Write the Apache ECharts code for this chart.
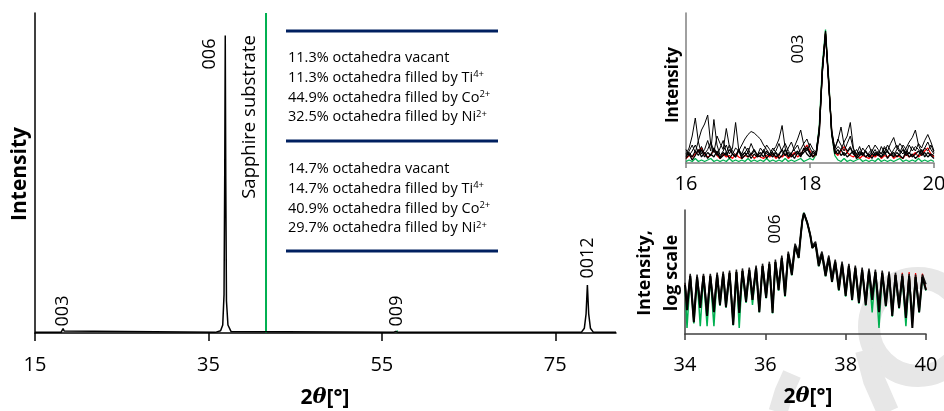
<!DOCTYPE html>
<html><head><meta charset="utf-8">
<script src="https://cdn.jsdelivr.net/npm/echarts@6/dist/echarts.min.js"></script>
<style>html,body{margin:0;padding:0;background:#fff}#c{width:944px;height:411px}</style>
</head><body><div id="c"></div>
<script>
// ---------- main pattern ----------
const mainX = [15, 18.0, 18.12, 18.24, 18.36, 18.5, 35.8, 36.4, 36.65, 36.8, 36.88, 36.94, 37.0, 37.08, 37.25, 37.6, 56.3, 56.6, 56.9, 78.0, 78.35, 78.55, 78.7, 78.85, 79.05, 79.4, 82];
const mainY = [0.2, 0.2, 0.6, 1.4, 0.6, 0.2, 0.2, 0.7, 2.5, 12, 50, 93, 48, 10, 2.5, 0.5, 0.2, 0.5, 0.2, 0.2, 1.5, 6, 15, 6, 1.5, 0.2, 0.2];
const sapphirePos = 41.64;
const mainTicks = [15, 35, 55, 75];

// ---------- inset 1: 003 region (linear) ----------
const inset1X = [16.00,16.05,16.10,16.15,16.20,16.25,16.30,16.35,16.40,16.45,16.50,16.55,16.60,16.65,16.70,16.75,16.80,16.85,16.90,16.95,17.00,17.05,17.10,17.15,17.20,17.25,17.30,17.35,17.40,17.45,17.50,17.55,17.60,17.65,17.70,17.75,17.80,17.85,17.90,17.95,18.00,18.05,18.10,18.15,18.20,18.25,18.30,18.35,18.40,18.45,18.50,18.55,18.60,18.65,18.70,18.75,18.80,18.85,18.90,18.95,19.00,19.05,19.10,19.15,19.20,19.25,19.30,19.35,19.40,19.45,19.50,19.55,19.60,19.65,19.70,19.75,19.80,19.85,19.90,19.95,20.00];
const inset1A = [6,10,18,30,14,6,9,15,8,29,12,5,8,12,6,10,27,9,4,7,10,5,8,6,4,9,6,5,8,11,16,25,10,5,7,9,12,6,9,11,7,5,6,22,62,86,55,20,8,11,9,14,18,27,10,5,8,6,4,7,9,5,8,6,10,7,5,9,12,8,6,10,14,17,22,12,7,10,14,9,6];
const inset1B = [4,8,12,7,15,22,26,32,12,7,18,13,9,23,11,6,10,8,12,16,19,21,20,18,16,12,9,6,10,7,5,9,13,8,6,11,16,22,12,8,13,9,7,24,64,87,54,21,10,15,24,12,8,11,6,9,5,10,7,5,8,12,9,6,11,8,13,17,10,7,12,9,6,11,8,13,10,15,19,14,8];
const inset1C = [9,5,8,12,7,11,6,9,14,8,5,10,15,7,12,8,5,9,6,11,7,13,8,5,10,7,12,9,5,8,13,7,5,10,14,8,6,9,13,16,10,6,8,23,60,85,56,19,9,16,12,8,13,18,9,6,11,5,9,12,6,9,5,11,7,12,8,5,9,13,10,6,12,8,11,9,6,10,8,12,7];
const inset1D = [5,7,4,8,5,9,4,7,5,10,6,4,7,5,9,6,4,8,5,7,4,6,9,5,7,4,8,5,7,4,6,9,5,7,4,6,8,5,7,10,6,4,7,21,61,88,53,22,8,6,9,5,7,10,6,4,7,5,8,4,6,5,7,4,6,8,5,7,4,6,9,5,7,4,6,8,5,7,4,6,5];
const inset1E = [3,6,2,5,9,4,7,3,6,4,8,3,5,7,3,6,4,9,3,5,7,3,6,4,5,8,3,6,4,7,3,5,9,4,6,3,7,4,10,6,4,8,5,20,63,86,56,19,6,9,5,7,4,6,8,3,5,7,4,6,3,7,5,4,8,3,6,4,7,5,3,8,4,6,3,5,9,4,7,5,3];
const inset1Red = [3,5,4,6,8,10,6,4,5,9,5,3,6,4,5,3,6,4,3,5,4,6,3,5,4,3,5,4,6,3,5,4,6,3,5,7,4,6,9,12,8,4,6,22,62,87,55,21,7,5,8,11,7,5,4,6,3,5,4,3,5,4,6,3,5,4,6,3,5,4,3,6,4,5,7,4,6,8,10,6,4];
const inset1Green = [1,2,1,3,1,2,1,2,3,1,2,1,2,1,3,1,2,1,2,1,3,1,2,1,2,1,3,1,2,1,2,1,3,1,2,1,2,3,1,2,3,2,6,25,66,89,57,20,5,2,1,3,1,2,1,2,3,1,2,1,2,1,3,1,2,1,2,1,2,3,1,2,1,2,1,3,1,2,1,2,1];
const inset1Ticks = [16, 18, 20];

// ---------- inset 2: 006 region (log scale) ----------
const inset2X = [34.00,34.05,34.13,34.22,34.30,34.38,34.46,34.55,34.63,34.72,34.80,34.87,34.95,35.02,35.11,35.20,35.28,35.35,35.43,35.52,35.60,35.68,35.77,35.85,35.93,36.02,36.10,36.18,36.25,36.33,36.41,36.49,36.57,36.66,36.74,36.83,36.88,36.92,36.96,37.00,37.04,37.08,37.12,37.17,37.25,37.33,37.41,37.50,37.58,37.66,37.74,37.83,37.91,38.00,38.08,38.16,38.24,38.33,38.41,38.50,38.58,38.66,38.74,38.83,38.91,39.00,39.08,39.16,39.24,39.33,39.41,39.50,39.58,39.66,39.74,39.83,39.91,40.00];
const inset2Black = [38,5.9,74,2.4,69,6.9,74,3.8,74,5.1,80,8.6,86,7.4,93,1.95,100,4.8,108,10.8,116,12.5,135,5.1,156,14.5,181,4.8,210,26,283,17,381,80,690,283,1500,4500,8000,7000,4000,2500,1500,595,800,156,381,74,283,48,210,26,181,17,156,12.5,135,10,116,8.6,108,12.5,100,5.1,93,8,86,3.8,80,6.9,74,3.3,74,1.56,69,5.1,69,26];
const inset2Black2 = [45,9,88,4,83,10,88,6,88,8,95,13,103,11,112,3,120,7,130,16,140,19,160,8,185,22,215,7,250,39,340,25,455,120,820,420,1400,4300,7800,6900,4100,2600,1550,700,950,230,455,110,340,72,250,39,215,25,185,19,160,15,140,13,130,19,120,8,112,12,103,6,95,10,88,5,88,3,83,8,83,40];
const inset2Green = [38,1.56,72,2.2,67,1.8,72,1.8,72,1.8,78,8,84,7,90,1.9,97,1.56,105,10,113,8.6,132,5,152,14,176,4.6,205,25,276,16,372,78,675,280,1480,4600,8200,7100,3900,2450,1480,590,790,152,372,72,276,47,205,25,176,16,152,12,132,9.5,113,8.2,105,5,97,1.56,90,7.6,84,3.6,78,6.6,72,1.8,72,3,67,4.9,67,25];
const inset2Red = [40,6.5,78,2.6,72,7.5,78,4.2,78,5.6,84,9.2,90,8,97,2.2,104,5.2,112,11.5,120,13,140,5.6,160,15,186,5.2,215,27,290,18,390,82,700,290,1520,4450,7900,6950,4050,2550,1520,600,810,160,390,78,290,50,215,27,186,18,160,13,140,11,122,9.5,112,13,104,5.6,98,8.6,92,4.2,86,7.5,95,3.6,100,2,92,5.6,88,28];
const inset2Ticks = [34, 36, 38, 40];

// ---------- annotation text ----------
const blockA = [
  ['11.3% octahedra vacant', ''],
  ['11.3% octahedra filled by Ti', '4+'],
  ['44.9% octahedra filled by Co', '2+'],
  ['32.5% octahedra filled by Ni', '2+']
];
const blockB = [
  ['14.7% octahedra vacant', ''],
  ['14.7% octahedra filled by Ti', '4+'],
  ['40.9% octahedra filled by Co', '2+'],
  ['29.7% octahedra filled by Ni', '2+']
];

const FONT = 'Open Sans';
const zip = (xs, ys) => xs.map((x, i) => [x, ys[i]]);

function lineSeries(xi, yi, data, color, width, z) {
  return { type: 'line', xAxisIndex: xi, yAxisIndex: yi, data: data, showSymbol: false, symbol: 'none',
    lineStyle: { color: color, width: width }, z: z || 2, animation: false, silent: true };
}

function valueXAxis(grid, min, max, ticks, color, margin, tickLen) {
  return { type: 'value', gridIndex: grid, min: min, max: max,
    axisLine: { show: true, onZero: false, lineStyle: { color: color, width: 1.5 } },
    axisTick: { show: true, customValues: ticks, length: tickLen, inside: false, lineStyle: { color: color, width: 1.5 } },
    axisLabel: { show: true, customValues: ticks, margin: margin, fontSize: 20, color: '#000', fontFamily: FONT },
    splitLine: { show: false } };
}
function plainYAxis(grid, type, min, max, color) {
  return { type: type, gridIndex: grid, min: min, max: max,
    axisLine: { show: true, onZero: false, lineStyle: { color: color, width: 1.5 } },
    axisTick: { show: false }, axisLabel: { show: false }, splitLine: { show: false } };
}

function rotText(x, y, text, size, bold, lineHeight) {
  const st = { text: text, fontSize: size, fontFamily: FONT, fontWeight: bold ? 'bold' : 'normal', fill: '#000',
      align: 'center', verticalAlign: 'middle' };
  if (lineHeight) st.lineHeight = lineHeight;
  return { type: 'text', x: x, y: y, rotation: Math.PI / 2, style: st };
}

const graphics = [];
// watermark shapes
const WM = '#e7e7e7';
graphics.push({ type: 'circle', z: -10, silent: true, shape: { cx: 918, cy: 327, r: 49 },
  style: { fill: 'none', stroke: WM, lineWidth: 22 } });
graphics.push({ type: 'polyline', z: -10, silent: true, shape: { points: [[866, 350], [874, 380], [888, 412]] },
  style: { fill: 'none', stroke: WM, lineWidth: 22 } });
graphics.push({ type: 'polyline', z: -10, silent: true, shape: { points: [[792, 374], [784, 392], [778, 412]] },
  style: { fill: 'none', stroke: WM, lineWidth: 19 } });
// blue separator lines
[31, 141, 251].forEach(y => graphics.push({ type: 'line', shape: { x1: 286, y1: y, x2: 498, y2: y },
  style: { stroke: '#002060', lineWidth: 3 } }));
function addBlock(block, y0) {
  block.forEach((ln, k) => {
    graphics.push({ type: 'text', x: 288, y: y0 + k * 19.7,
      style: { text: ln[0] + (ln[1] ? '{s|' + ln[1] + '}' : ''), fontSize: 14.5, fontFamily: FONT, fill: '#000',
        align: 'left', verticalAlign: 'middle',
        rich: { s: { fontSize: 9.5, fontFamily: FONT, verticalAlign: 'top', fill: '#000', padding: [0, 0, 6, 0] } } } });
  });
}
addBlock(blockA, 58);
addBlock(blockB, 169);
// labels in main plot
graphics.push(rotText(20, 174, 'Intensity', 21, true));
graphics.push(rotText(63, 311, '003', 18, false));
graphics.push(rotText(210, 54, '006', 18, false));
graphics.push(rotText(250, 117, 'Sapphire substrate', 18.5, false));
graphics.push(rotText(397, 311, '009', 18, false));
graphics.push(rotText(588, 258, '0012', 18, false));
// inset labels
graphics.push(rotText(673, 85, 'Intensity', 17, true));
graphics.push(rotText(798, 49, '003', 17, false));
graphics.push(rotText(658, 273, 'Intensity,\nlog scale', 18, true, 27));
graphics.push(rotText(775, 229, '006', 17, false));
function twoTheta(x, y) {
  return { type: 'text', x: x, y: y,
    style: { text: '{b|2}{i|θ}{b|[°]}', align: 'center', verticalAlign: 'middle', fill: '#000',
      rich: { b: { fontSize: 21, fontWeight: 'bold', fontFamily: FONT, fill: '#000' },
              i: { fontSize: 21, fontWeight: 'bold', fontStyle: 'italic', fontFamily: 'DejaVu Serif', fill: '#000' } } } };
}
graphics.push(twoTheta(325, 398));
graphics.push(twoTheta(808, 397));

const chart = echarts.init(document.getElementById('c'), null, { renderer: 'canvas' });
chart.setOption({
  animation: false,
  backgroundColor: '#fff',
  grid: [
    { left: 35, top: 13, right: 328, bottom: 78, containLabel: false, outerBoundsMode: 'none' },
    { left: 686, top: 13, right: 10, bottom: 248, containLabel: false, outerBoundsMode: 'none' },
    { left: 685, top: 210, right: 18, bottom: 77, containLabel: false, outerBoundsMode: 'none' }
  ],
  xAxis: [
    valueXAxis(0, 15, 82, mainTicks, '#000', 22, 8),
    valueXAxis(1, 16, 20, inset1Ticks, '#808080', 11, 5),
    valueXAxis(2, 34, 40, inset2Ticks, '#404040', 21, 6)
  ],
  yAxis: [
    plainYAxis(0, 'value', 0, 100, '#000'),
    plainYAxis(1, 'value', 0, 100, '#808080'),
    Object.assign(plainYAxis(2, 'log', 1, 10000, '#404040'), { logBase: 10 })
  ],
  series: [
    lineSeries(0, 0, zip(mainX, mainY), '#000', 1.5, 3),
    lineSeries(0, 0, [[sapphirePos, 0], [sapphirePos, 100]], '#00b050', 2, 2),
    lineSeries(0, 0, [[56.7, 0.2], [56.8, 0.8], [56.9, 0.2]], '#00b050', 1.5, 2),
    lineSeries(1, 1, zip(inset1X, inset1Green), '#00b050', 1.3, 2),
    lineSeries(1, 1, zip(inset1X, inset1Red), '#ff0000', 1.2, 2),
    lineSeries(1, 1, zip(inset1X, inset1A), '#000', 1, 3),
    lineSeries(1, 1, zip(inset1X, inset1B), '#000', 1, 3),
    lineSeries(1, 1, zip(inset1X, inset1C), '#000', 1, 3),
    lineSeries(1, 1, zip(inset1X, inset1D), '#000', 1.3, 3),
    lineSeries(1, 1, zip(inset1X, inset1E), '#000', 1.3, 3),
    lineSeries(2, 2, zip(inset2X, inset2Green), '#00b050', 1.5, 2),
    lineSeries(2, 2, zip(inset2X, inset2Red), '#ff0000', 1.2, 2),
    lineSeries(2, 2, zip(inset2X, inset2Black2), '#1a1a1a', 1.5, 3),
    lineSeries(2, 2, zip(inset2X, inset2Black), '#000', 2, 3)
  ],
  graphic: { elements: graphics }
});
</script></body></html>
